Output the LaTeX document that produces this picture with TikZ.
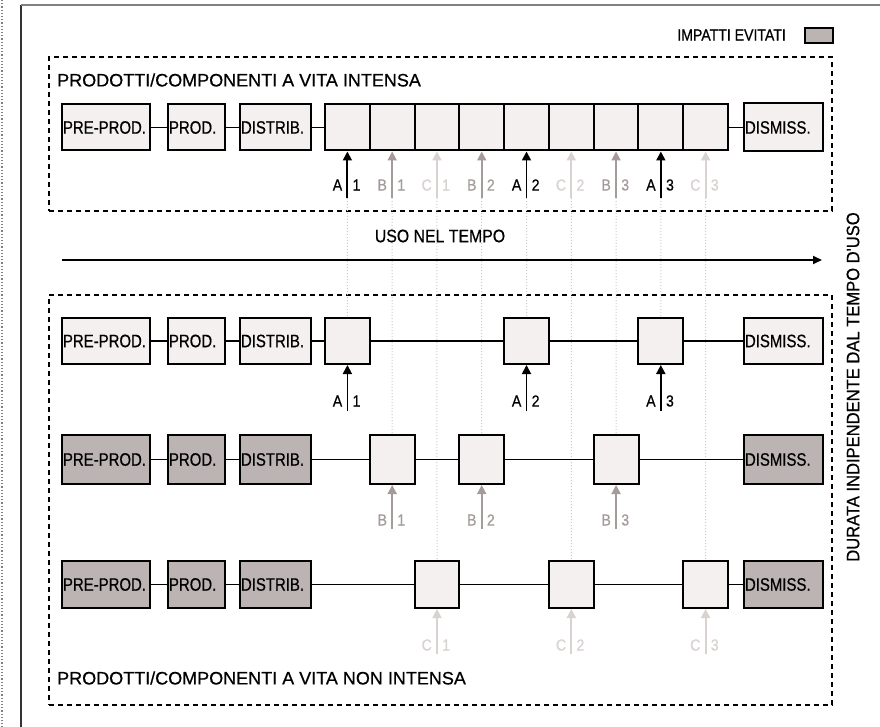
\documentclass[tikz,border=0pt]{standalone}
\usepackage{fontspec}
\setmainfont[FakeBold=0.6]{Liberation Sans}
\newfontfamily\nfa[FakeStretch=0.83,FakeBold=0.6]{Liberation Sans}
\newfontfamily\nfb[FakeStretch=0.88,FakeBold=0.6]{Liberation Sans}
\newfontfamily\nfc[FakeStretch=0.92,FakeBold=0.6]{Liberation Sans}
\newfontfamily\nft[FakeBold=0.6]{Liberation Sans}
\usetikzlibrary{arrows.meta,calc}
\definecolor{boxfill}{HTML}{F3F0EF}
\definecolor{grayfill}{HTML}{BCB4B2}
\definecolor{bcol}{HTML}{A49C9A}
\definecolor{ccol}{HTML}{D8D2D0}
\definecolor{guidecol}{HTML}{D2CACA}
\newcommand\lblfont{\nfa\fontsize{18}{18}\selectfont}
\newcommand\arrfont{\nfb\fontsize{16}{16}\selectfont}
\begin{document}
\begin{tikzpicture}[x=1pt,y=-1pt,
  stagebox/.style={draw, line width=2pt, fill=boxfill, inner xsep=1pt, inner ysep=0pt, anchor=west, align=left, font=\lblfont},
  cell/.style={draw, line width=2pt, fill=boxfill, minimum width=44.8pt, inner sep=0pt},
  conn/.style={line width=1.8pt},
  imp/.style={line width=1.8pt, -{Triangle[width=9pt,length=9pt]}},
  lab/.style={font=\arrfont, inner sep=0pt},
  guide/.style={guidecol, line width=1pt, dotted},
  grp/.style={draw, line width=2pt, dash pattern=on 5pt off 4pt, inner sep=0pt},
  ttl/.style={font=\nft\fontsize{18}{18}\selectfont, anchor=west, inner sep=0pt}]
\useasboundingbox (0,0) rectangle (880,727);
\fill[white] (0,0) rectangle (880,727);
% outer frame
\coordinate (fa) at (21,727);
\coordinate (fb) at (21,5);
\coordinate (fc) at (880,5);
\coordinate (fd) at (2,0);
\coordinate (fe) at (2,727);
\draw[gray, line width=1.2pt, dotted] (fd) -- (fe);
\draw[black!80, line width=1.2pt] (fa) -- (fb);
\draw[gray, line width=1.2pt] (fb) -- (fc);

% group frames
\node[grp, minimum width=783pt, minimum height=154pt] (topgrp) at (440.5,134) {};
\node[grp, minimum width=783pt, minimum height=410pt] (botgrp) at (440.5,500) {};
\node[ttl] (ttop) at (57,80) {PRODOTTI/COMPONENTI A VITA INTENSA};
\node[ttl] (tbot) at (57,678) {PRODOTTI/COMPONENTI A VITA NON INTENSA};

% legend
\node[font=\nfb\fontsize{16}{16}\selectfont, anchor=east, inner sep=0pt] (leg) at (786,35) {IMPATTI EVITATI};
\node[draw, fill=grayfill, line width=2pt, minimum width=28pt, minimum height=15pt, inner sep=0pt] (legbox) at (819,35.5) {};

% vertical text
\node[rotate=90, font=\nfc\fontsize{18}{18}\selectfont, inner sep=0pt] (dur) at (853,387) {DURATA INDIPENDENTE DAL TEMPO D'USO};

% top-row arrow tails (used for guides)
\foreach \i in {1,...,9}{
  \coordinate (t\i) at ({325+44.78*(\i-0.5)},198);
}

% guides (drawn first, in the background)
\draw[guide] (t1) -- (347.4,318);
\draw[guide] (t5) -- (526.5,318);
\draw[guide] (t8) -- (660.8,318);
\draw[guide] (t2) -- (392.2,435);
\draw[guide] (t4) -- (481.7,435);
\draw[guide] (t7) -- (616.1,435);
\draw[guide] (t3) -- (437.0,561);
\draw[guide] (t6) -- (571.3,561);
\draw[guide] (t9) -- (705.6,561);

% USO NEL TEMPO
\coordinate (us) at (62,260);
\coordinate (ue) at (822,260);
\draw[line width=1.8pt, -{Triangle[width=8pt,length=9pt]}] (us) -- (ue);
\node[font=\nfb\fontsize{18}{18}\selectfont, inner sep=0pt] (uso) at (440,236) {USO NEL TEMPO};

% ---------- top row ----------
\begin{scope}[every node/.append style={minimum height=46pt}]
\node[stagebox, text width=86pt] (tpre) at (61,127.5) {PRE-PROD.};
\node[stagebox, text width=55pt] (tprod) at (167,127.5) {PROD.};
\node[stagebox, text width=69pt] (tdist) at (239,127.5) {DISTRIB.};
\foreach \i in {1,...,9}{
  \node[cell] (c\i) at ({325+44.78*(\i-0.5)},127.5) {};
}
\node[stagebox, text width=77pt, minimum height=48pt] (tdis) at (743,127.5) {DISMISS.};
\end{scope}
\draw[conn] (tpre) -- (tprod);
\draw[conn] (tprod) -- (tdist);
\draw[conn] (tdist) -- (c1);
\draw[conn] (c9) -- (tdis);
\foreach \i/\L/\n/\col in {1/A/1/black,2/B/1/bcol,3/C/1/ccol,4/B/2/bcol,5/A/2/black,6/C/2/ccol,7/B/3/bcol,8/A/3/black,9/C/3/ccol}{
  \draw[imp, \col] (t\i) -- (c\i.south);
  \node[lab, \col, anchor=east] at ($(t\i)+(-5,-13)$) {\L};
  \node[lab, \col, anchor=west] at ($(t\i)+(5,-13)$) {\n};
}

% ---------- row 1 ----------
\begin{scope}[every node/.append style={minimum height=46pt}]
\node[stagebox, text width=86pt] (apre) at (61,341) {PRE-PROD.};
\node[stagebox, text width=55pt] (aprod) at (167,341) {PROD.};
\node[stagebox, text width=69pt] (adist) at (239,341) {DISTRIB.};
\node[cell] (ra) at (347.4,341) {};
\node[cell] (rb) at (526.5,341) {};
\node[cell] (rc) at (660.8,341) {};
\node[stagebox, text width=77pt] (adis) at (743,341) {DISMISS.};
\end{scope}
\draw[conn] (apre) -- (aprod);
\draw[conn] (aprod) -- (adist);
\draw[conn] (adist) -- (ra);
\draw[conn] (ra) -- (rb);
\draw[conn] (rb) -- (rc);
\draw[conn] (rc) -- (adis);
\foreach \c/\n in {ra/1,rb/2,rc/3}{
  \coordinate (\c t) at ($(\c.south)+(0,46)$);
  \draw[imp] (\c t) -- (\c.south);
  \node[lab, anchor=east] at ($(\c t)+(-5,-10)$) {A};
  \node[lab, anchor=west] at ($(\c t)+(5,-10)$) {\n};
}

% ---------- row 2 ----------
\begin{scope}[every node/.append style={minimum height=49pt}]
\node[stagebox, fill=grayfill, text width=86pt] (bpre) at (61,459.5) {PRE-PROD.};
\node[stagebox, fill=grayfill, text width=55pt] (bprod) at (167,459.5) {PROD.};
\node[stagebox, fill=grayfill, text width=69pt] (bdist) at (239,459.5) {DISTRIB.};
\node[cell] (sa) at (392.2,459.5) {};
\node[cell] (sb) at (481.7,459.5) {};
\node[cell] (sc) at (616.1,459.5) {};
\node[stagebox, fill=grayfill, text width=77pt] (bdis) at (743,459.5) {DISMISS.};
\end{scope}
\draw[conn] (bpre) -- (bprod);
\draw[conn] (bprod) -- (bdist);
\draw[conn] (bdist) -- (sa);
\draw[conn] (sa) -- (sb);
\draw[conn] (sb) -- (sc);
\draw[conn] (sc) -- (bdis);
\foreach \c/\n in {sa/1,sb/2,sc/3}{
  \coordinate (\c t) at ($(\c.south)+(0,44)$);
  \draw[imp, bcol] (\c t) -- (\c.south);
  \node[lab, bcol, anchor=east] at ($(\c t)+(-5,-9)$) {B};
  \node[lab, bcol, anchor=west] at ($(\c t)+(5,-9)$) {\n};
}

% ---------- row 3 ----------
\begin{scope}[every node/.append style={minimum height=47pt}]
\node[stagebox, fill=grayfill, text width=86pt] (cpre) at (61,584.5) {PRE-PROD.};
\node[stagebox, fill=grayfill, text width=55pt] (cprod) at (167,584.5) {PROD.};
\node[stagebox, fill=grayfill, text width=69pt] (cdist) at (239,584.5) {DISTRIB.};
\node[cell] (ua) at (437.0,584.5) {};
\node[cell] (ub) at (571.3,584.5) {};
\node[cell] (uc) at (705.6,584.5) {};
\node[stagebox, fill=grayfill, text width=77pt] (cdis) at (743,584.5) {DISMISS.};
\end{scope}
\draw[conn] (cpre) -- (cprod);
\draw[conn] (cprod) -- (cdist);
\draw[conn] (cdist) -- (ua);
\draw[conn] (ua) -- (ub);
\draw[conn] (ub) -- (uc);
\draw[conn] (uc) -- (cdis);
\foreach \c/\n in {ua/1,ub/2,uc/3}{
  \coordinate (\c t) at ($(\c.south)+(0,45)$);
  \draw[imp, ccol] (\c t) -- (\c.south);
  \node[lab, ccol, anchor=east] at ($(\c t)+(-5,-9)$) {C};
  \node[lab, ccol, anchor=west] at ($(\c t)+(5,-9)$) {\n};
}
\end{tikzpicture}
\end{document}
